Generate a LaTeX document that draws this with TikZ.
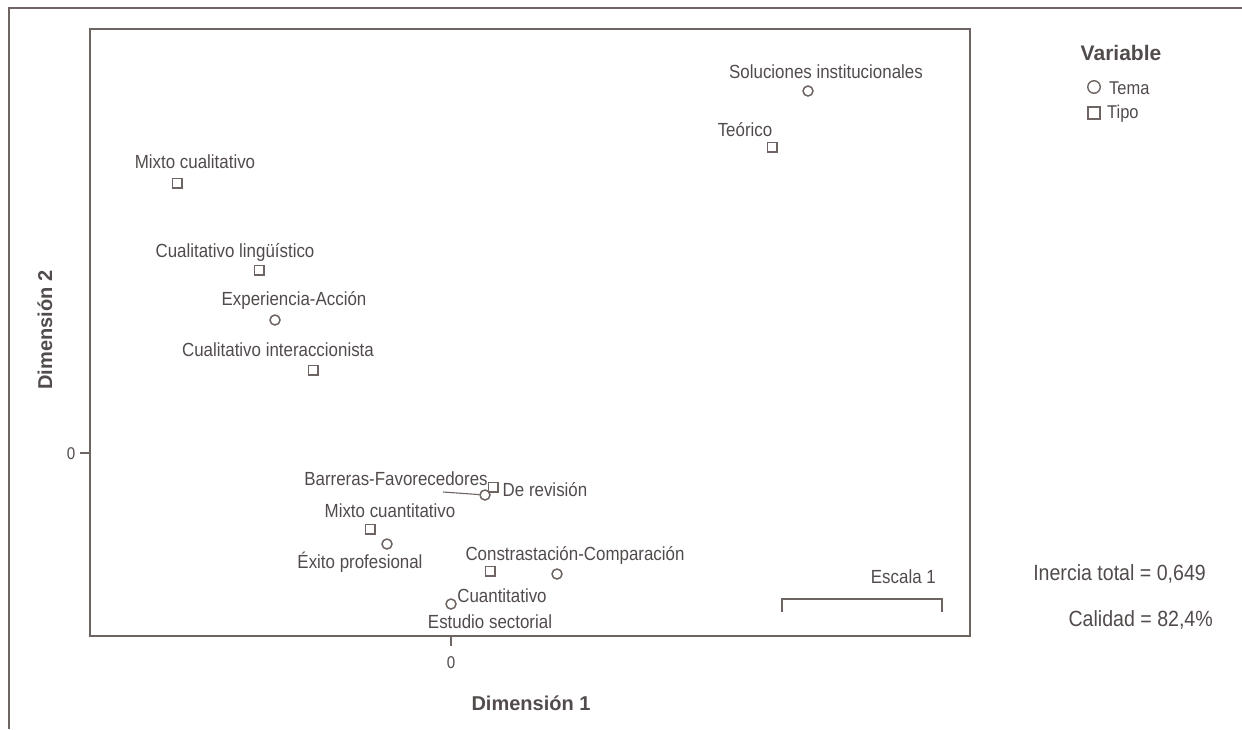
\documentclass[tikz,border=0pt]{standalone}
\usepackage{fontspec}
\setmainfont{Liberation Sans}
\newfontfamily\condfont{Liberation Sans}[FakeStretch=0.89]
\definecolor{linec}{HTML}{6E6562}
\definecolor{txtc}{HTML}{524B4B}
\begin{document}
\begin{tikzpicture}[x=1pt,y=-1pt,
  frame/.style={draw=linec, line width=2pt},
  lbl/.style={text=txtc, font=\condfont\fontsize{19}{22}\selectfont, inner sep=0pt},
  big/.style={text=txtc, font=\condfont\fontsize{22}{26}\selectfont, inner sep=0pt},
  title/.style={text=txtc, font=\bfseries\fontsize{20}{24}\selectfont, inner sep=0pt},
  tick/.style={text=txtc, font=\condfont\fontsize{17}{20}\selectfont, inner sep=0pt},
  tema/.style={draw=linec, circle, line width=1.5pt, minimum size=10pt, inner sep=0pt},
  tipo/.style={draw=linec, rectangle, line width=1.5pt, minimum size=9.5pt, inner sep=0pt},
  ltema/.style={draw=linec, circle, line width=1.4pt, minimum size=12.5pt, inner sep=0pt},
  ltipo/.style={draw=linec, rectangle, line width=1.4pt, minimum size=12pt, inner sep=0pt},
  leg/.style={text=txtc, font=\condfont\fontsize{18.5}{21}\selectfont, inner sep=0pt, anchor=west}
]
\useasboundingbox (0,0) rectangle (1242,729);

% outer frame (top and left edges)
\draw[frame] (9,729) -- (9,8) -- (1242,8);

% plot area
\draw[frame] (90,29) rectangle (970,636);

% axis ticks and zero labels
\coordinate (yt0) at (80,453);
\coordinate (yt1) at (90,453);
\draw[draw=linec, line width=1.5pt] (yt0) -- (yt1);
\node[tick] (y0) at (71,454) {0};
\coordinate (xt0) at (451,636);
\coordinate (xt1) at (451,646);
\draw[draw=linec, line width=1.5pt] (xt0) -- (xt1);
\node[tick] (x0) at (451,663) {0};

% axis titles
\node[title] (dim1) at (531,703) {Dimensión 1};
\node[title, rotate=90] (dim2) at (45,330) {Dimensión 2};

% points: Tema (circles) and Tipo (squares)
\node[tema] (p-sol) at (808,91) {};
\node[lbl] (l-sol) at (826,72) {Soluciones institucionales};
\node[tipo] (p-teo) at (772,147) {};
\node[lbl] (l-teo) at (745,130) {Teórico};
\node[tipo] (p-mcl) at (177,183) {};
\node[lbl] (l-mcl) at (195,162) {Mixto cualitativo};
\node[tipo] (p-cli) at (259,270) {};
\node[lbl] (l-cli) at (235,252) {Cualitativo lingüístico};
\node[tema] (p-exp) at (275,320) {};
\node[lbl] (l-exp) at (294,300) {Experiencia-Acción};
\node[tipo] (p-cin) at (313,370) {};
\node[lbl] (l-cin) at (278,350) {Cualitativo interaccionista};

\node[tipo] (p-rev) at (493,487) {};
\node[lbl] (l-rev) at (545,490) {De revisión};
\node[tema] (p-bar) at (485,495) {};
\node[lbl] (l-bar) at (396,479) {Barreras-Favorecedores};
\coordinate (bar-lead) at (443,492);
\draw[draw=linec, line width=1.1pt] (bar-lead) -- (p-bar);

\node[tipo] (p-mcu) at (370,529) {};
\node[lbl] (l-mcu) at (390,511) {Mixto cuantitativo};
\node[tema] (p-exi) at (387,544) {};
\node[lbl] (l-exi) at (360,562) {Éxito profesional};
\node[tipo] (p-cua) at (490,571) {};
\node[lbl] (l-cua) at (502,596) {Cuantitativo};
\node[tema] (p-con) at (557,574) {};
\node[lbl] (l-con) at (575,555) {Constrastación-Comparación};
\node[tema] (p-est) at (451,604) {};
\node[lbl] (l-est) at (490,622) {Estudio sectorial};

% scale bar
\node[lbl, anchor=east] (esc) at (936,577) {Escala 1};
\coordinate (s1) at (782,612);
\coordinate (s2) at (782,599);
\coordinate (s3) at (942,599);
\coordinate (s4) at (942,612);
\draw[draw=linec, line width=2pt] (s1) -- (s2) -- (s3) -- (s4);

% legend
\node[title, font=\bfseries\fontsize{21}{24}\selectfont] (vtitle) at (1121,53) {Variable};
\node[ltema] (k-tema) at (1094,87) {};
\node[leg] (t-tema) at (1109,88) {Tema};
\node[ltipo] (k-tipo) at (1094,113) {};
\node[leg] (t-tipo) at (1107,114) {Tipo};

% summary statistics
\node[big, anchor=east] (inercia) at (1206,574) {Inercia total = 0,649};
\node[big, anchor=east] (calidad) at (1213,620) {Calidad = 82,4\%};
\end{tikzpicture}
\end{document}
